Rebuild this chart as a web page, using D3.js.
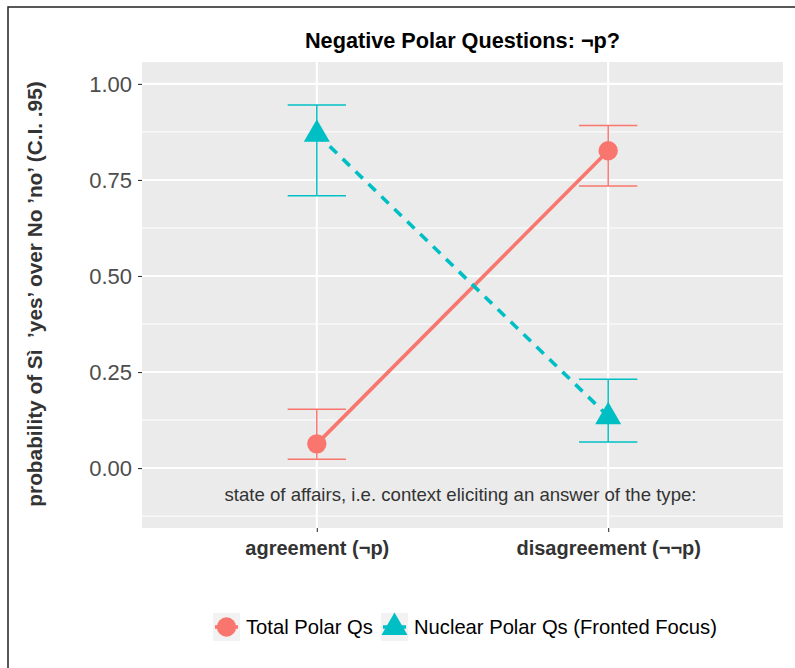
<!DOCTYPE html>
<html><head><meta charset="utf-8">
<script src="https://cdn.jsdelivr.net/npm/d3@7"></script>
<style>body{margin:0;background:#fff;} text{font-family:"Liberation Sans",Arial,Helvetica,sans-serif;}</style>
</head><body>
<svg id="c" width="795" height="668"></svg>
<script>
const categories = ["agreement (¬p)", "disagreement (¬¬p)"];
const seriesNames = ["Total Polar Qs", "Nuclear Polar Qs (Fronted Focus)"];
const totalMean = [0.063, 0.826];
const totalLow = [0.023, 0.734];
const totalHigh = [0.153, 0.892];
const nuclearMean = [0.870, 0.135];
const nuclearLow = [0.709, 0.068];
const nuclearHigh = [0.945, 0.231];
const yTicks = [0, 0.25, 0.5, 0.75, 1.0];
const yMinor = [-0.125, 0.125, 0.375, 0.625, 0.875];
const colors = ["#F8766D", "#00BFC4"];

const svg = d3.select("#c");
const P = {l:142, r:783, t:62, b:528};

// outer border
svg.append("rect").attr("x",8).attr("y",7).attr("width",800).attr("height",700)
  .attr("fill","none").attr("stroke","#222").attr("stroke-width",1.5);

const x = d3.scaleLinear().domain([0.4, 2.6]).range([P.l, P.r]);
const y = d3.scaleLinear().domain([-0.156, 1.057]).range([P.b, P.t]);

svg.append("rect").attr("x",P.l).attr("y",P.t).attr("width",P.r-P.l).attr("height",P.b-P.t).attr("fill","#EBEBEB");
const g = svg.append("g");
yMinor.forEach(v=>g.append("line").attr("x1",P.l).attr("x2",P.r).attr("y1",y(v)).attr("y2",y(v)).attr("stroke","#fff").attr("stroke-width",1));
yTicks.forEach(v=>g.append("line").attr("x1",P.l).attr("x2",P.r).attr("y1",y(v)).attr("y2",y(v)).attr("stroke","#fff").attr("stroke-width",2.1));
categories.forEach((c,i)=>g.append("line").attr("x1",x(i+1)).attr("x2",x(i+1)).attr("y1",P.t).attr("y2",P.b).attr("stroke","#fff").attr("stroke-width",2.1));

// axes
const yAxis = d3.axisLeft(y).tickValues(yTicks).tickFormat(d3.format(".2f")).tickSize(4).tickPadding(4);
const ya = svg.append("g").attr("transform",`translate(${P.l},0)`).call(yAxis);
ya.select(".domain").remove();
ya.selectAll("line").attr("stroke","#333").attr("stroke-width",1.1);
ya.selectAll("text").attr("fill","#4D4D4D").style("font-size","22px").attr("dy","0.36em").attr("x",-10);

const xAxis = d3.axisBottom(x).tickValues([1,2]).tickFormat((d,i)=>categories[i]).tickSize(4);
const xa = svg.append("g").attr("transform",`translate(0,${P.b})`).call(xAxis);
xa.select(".domain").remove();
xa.selectAll("line").attr("stroke","#333").attr("stroke-width",1.1);
xa.selectAll("text").attr("fill","#333").style("font-size","20px").style("font-weight","bold").attr("dy",null).attr("y",27);

// annotation
svg.append("text").attr("x",(P.l+P.r)/2-2).attr("y",500.5).attr("text-anchor","middle")
  .attr("fill","#333").style("font-size","18.6px").text("state of affairs, i.e. context eliciting an answer of the type:");

// title
svg.append("text").attr("x",(P.l+P.r)/2).attr("y",48).attr("text-anchor","middle")
  .style("font-size","21.7px").style("font-weight","bold").attr("fill","#000").text("Negative Polar Questions: ¬p?");

// y title
svg.append("text").attr("transform",`translate(42,${(P.t+P.b)/2-1}) rotate(-90)`).attr("text-anchor","middle")
  .style("font-size","20.8px").style("font-weight","bold").attr("fill","#333")
  .text("probability of Sì\u00A0 ’yes’ over No ’no’ (C.I. .95)");

const series = [
  {mean: totalMean, lo: totalLow, hi: totalHigh, color: colors[0], dash: null, shape: "circle"},
  {mean: nuclearMean, lo: nuclearLow, hi: nuclearHigh, color: colors[1], dash: "10,8", shape: "triangle"}
];
const hw = 0.1;
series.forEach(s=>{
  const line = d3.line().x((d,i)=>x(i+1)).y(d=>y(d));
  g.append("path").datum(s.mean).attr("d",line).attr("fill","none").attr("stroke",s.color)
    .attr("stroke-width",3.6).attr("stroke-dasharray",s.dash);
  s.mean.forEach((m,i)=>{
    const cx = x(i+1);
    g.append("line").attr("x1",cx).attr("x2",cx).attr("y1",y(s.lo[i])).attr("y2",y(s.hi[i])).attr("stroke",s.color).attr("stroke-width",1.5);
    [s.lo[i], s.hi[i]].forEach(v=>g.append("line").attr("x1",x(i+1-hw)).attr("x2",x(i+1+hw)).attr("y1",y(v)).attr("y2",y(v)).attr("stroke",s.color).attr("stroke-width",1.5));
  });
});
function drawShape(sel, shape, cx, cy, color){
  if(shape==="circle") sel.append("circle").attr("cx",cx).attr("cy",cy).attr("r",9.7).attr("fill",color);
  else sel.append("path").attr("d",`M${cx},${cy-14.5}L${cx+13},${cy+8}L${cx-13},${cy+8}Z`).attr("fill",color);
}
series.forEach(s=>s.mean.forEach((m,i)=>drawShape(g, s.shape, x(i+1), y(m), s.color)));

// legend
const lg = svg.append("g");
const legendX = [213, 381];
seriesNames.forEach((n,i)=>{
  const bx = legendX[i];
  lg.append("rect").attr("x",bx).attr("y",613).attr("width",27).attr("height",28).attr("fill","#F2F2F2");
  lg.append("line").attr("x1",bx+2).attr("x2",bx+25).attr("y1",627).attr("y2",627).attr("stroke",colors[i]).attr("stroke-width",3.6).attr("stroke-dasharray",series[i].dash);
  drawShape(lg, series[i].shape, bx+13.5, 627, colors[i]);
  lg.append("text").attr("x",bx+33).attr("y",634).style("font-size","20.2px").attr("fill","#000").text(n);
});
</script>
</body></html>
